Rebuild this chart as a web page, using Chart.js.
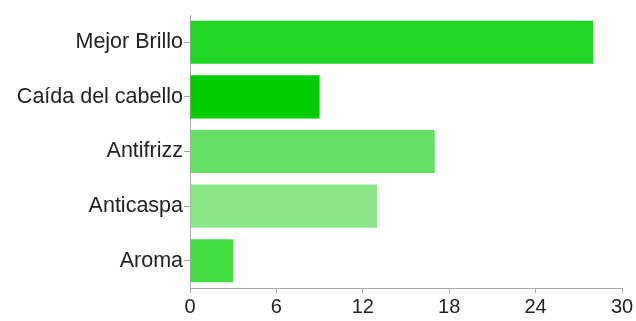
<!DOCTYPE html>
<html lang="es">
<head>
    <meta charset="UTF-8">
    <title>Beneficios</title>
    <script src="https://cdn.jsdelivr.net/npm/chart.js@4"></script>
    <style>
        html, body { margin: 0; padding: 0; background: #fff; }
        #wrap { width: 636px; height: 321px; }
    </style>
</head>
<body>
    <div id="wrap"><canvas id="myChart"></canvas></div>
    <script>
        var labels = ['Mejor Brillo', 'Caída del cabello', 'Antifrizz', 'Anticaspa', 'Aroma']
        var votes = [28, 9, 17, 13, 3]
        var barColors = ['#21d621', '#00cc00', '#63e063', '#88e688', '#43dc43']

        Chart.defaults.font.family = '"Liberation Sans", Arial, sans-serif'

        var ctx = document.getElementById('myChart').getContext('2d')
        window.chart = new Chart(ctx, {
            type: 'bar',
            data: {
                labels: labels,
                datasets: [{
                    data: votes,
                    backgroundColor: barColors,
                    borderWidth: 0,
                    categoryPercentage: 1,
                    barPercentage: 0.79
                }]
            },
            options: {
                indexAxis: 'y',
                responsive: true,
                maintainAspectRatio: false,
                animation: false,
                layout: { padding: { top: 15, right: 14, left: 0, bottom: 0 } },
                plugins: { legend: { display: false }, tooltip: { enabled: false } },
                scales: {
                    x: {
                        min: 0,
                        max: 30,
                        ticks: { stepSize: 6, color: '#222', padding: 2, font: { size: 20 } },
                        grid: { drawOnChartArea: false, tickLength: 5, color: '#aaa' },
                        border: { color: '#aaa', width: 1 },
                        afterFit: function (scale) { scale.height = 33 }
                    },
                    y: {
                        ticks: { color: '#222', padding: 1, font: { size: 21.5 } },
                        // tick marks sit at the middle of each bar
                        grid: { drawOnChartArea: false, offset: false, tickLength: 6, color: '#aaa' },
                        border: { color: '#aaa', width: 1 },
                        afterFit: function (scale) { scale.width = 190 }
                    }
                }
            }
        })
    </script>
</body>
</html>
